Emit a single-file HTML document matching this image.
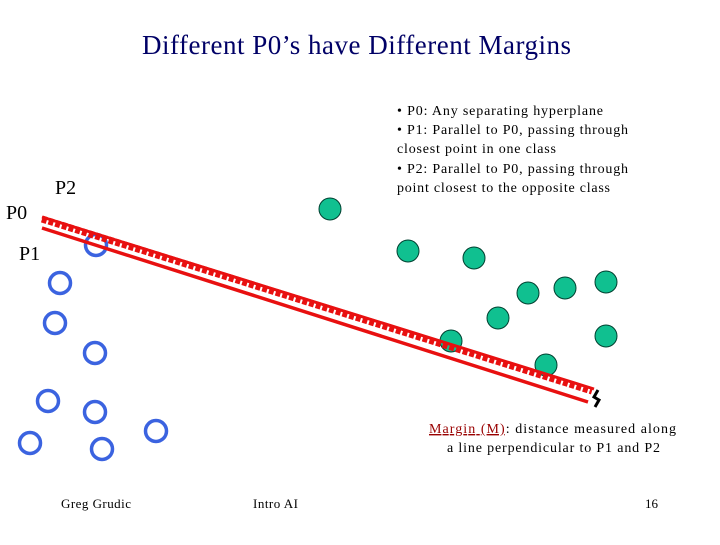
<!DOCTYPE html>
<html><head><meta charset="utf-8"><style>
body{margin:0;width:720px;height:540px;background:#fff;overflow:hidden;font-family:"Liberation Serif",serif;}
</style></head><body>
<svg width="720" height="540">
<text x="142" y="54" textLength="429" lengthAdjust="spacing" font-size="27" fill="#000066">Different P0’s have Different Margins</text>
<g font-size="14" fill="#000">
<text x="397" y="115" textLength="206" lengthAdjust="spacing">• P0:  Any separating hyperplane</text>
<text x="397" y="134" textLength="231" lengthAdjust="spacing">• P1:  Parallel to P0, passing through</text>
<text x="397" y="153" textLength="159" lengthAdjust="spacing">closest point in one class</text>
<text x="397" y="173" textLength="231" lengthAdjust="spacing">• P2:  Parallel to P0, passing through</text>
<text x="397" y="192" textLength="213" lengthAdjust="spacing">point closest to the opposite class</text>
</g>
<text x="55" y="194" font-size="20">P2</text>
<text x="6" y="219" font-size="20">P0</text>
<text x="19" y="260" font-size="20">P1</text>
<g id="pts"></g>
<line x1="42" y1="217" x2="594" y2="389" stroke="#e81010" stroke-width="3"/>
<line x1="42" y1="219" x2="592" y2="391" stroke="#e81010" stroke-width="7" stroke-dasharray="5,2"/>
<line x1="42" y1="228" x2="588" y2="402" stroke="#e81010" stroke-width="3.5"/>
<path d="M598 390 L594 397 L599 400 L595 407" stroke="#000" stroke-width="3" fill="none"/>
<g font-size="14">
<text x="429" y="433" textLength="247" lengthAdjust="spacing"><tspan fill="#990000" text-decoration="underline">Margin (M)</tspan>: distance measured along</text>
<text x="447" y="452" textLength="213" lengthAdjust="spacing">a line perpendicular to P1 and P2</text>
</g>
<text x="61" y="508" font-size="13" textLength="70" lengthAdjust="spacing">Greg Grudic</text>
<text x="253" y="508" font-size="13" textLength="45" lengthAdjust="spacing">Intro AI</text>
<text x="645" y="508" font-size="13">16</text>
</svg>
<script>
const greenX=[330,408,474,528,565,606,498,451,546,606];
const greenY=[209,251,258,293,288,282,318,341,365,336];
const blueX=[96,60,55,95,48,95,156,30,102];
const blueY=[245,283,323,353,401,412,431,443,449];
const ns="http://www.w3.org/2000/svg",g=document.getElementById('pts');
greenX.forEach((x,i)=>{const c=document.createElementNS(ns,'circle');
c.setAttribute('cx',x);c.setAttribute('cy',greenY[i]);c.setAttribute('r',11);
c.setAttribute('fill','#10c090');c.setAttribute('stroke','#004030');c.setAttribute('stroke-width','1');


g.appendChild(c);});
blueX.forEach((x,i)=>{const c=document.createElementNS(ns,'circle');
c.setAttribute('cx',x);c.setAttribute('cy',blueY[i]);c.setAttribute('r',10.5);
c.setAttribute('fill','none');c.setAttribute('stroke','#3b63e0');c.setAttribute('stroke-width','3.5');


g.appendChild(c);});
</script>
</body></html>
